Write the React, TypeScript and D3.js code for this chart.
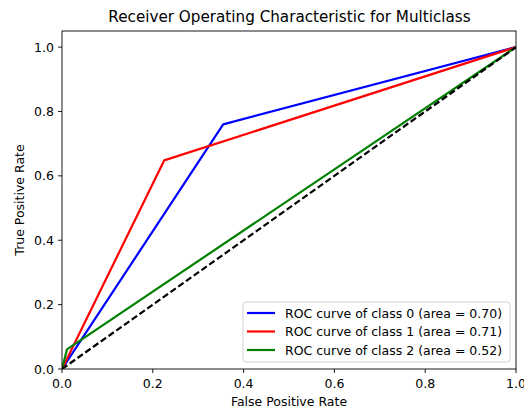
import React from "react";
import * as d3 from "d3";

// ROC curve points (false positive rate, true positive rate) per class
const class0Fpr = [0, 0.355, 1];
const class0Tpr = [0, 0.76, 1];
const class1Fpr = [0, 0.225, 1];
const class1Tpr = [0, 0.648, 1];
const class2Fpr = [0, 0.011, 1];
const class2Tpr = [0, 0.061, 1];
const areas = ["0.70", "0.71", "0.52"];
const colors = ["#0000ff", "#ff0000", "#008000"];
const xTicks = [0, 0.2, 0.4, 0.6, 0.8, 1.0];
const yTicks = [0, 0.2, 0.4, 0.6, 0.8, 1.0];

const W = 524;
const H = 409;
const left = 62;
const right = 516;
const top = 31;
const bottom = 369;
const FONT = "DejaVu Sans, sans-serif";
const FS = 12.5;

export default function App() {
  const x = d3.scaleLinear().domain([0, 1]).range([left, right]);
  const y = d3.scaleLinear().domain([0, 1.05]).range([bottom, top]);
  const line = d3
    .line<[number, number]>()
    .x((d) => x(d[0]))
    .y((d) => y(d[1]));

  const series = [
    { fpr: class0Fpr, tpr: class0Tpr },
    { fpr: class1Fpr, tpr: class1Tpr },
    { fpr: class2Fpr, tpr: class2Tpr },
  ];

  const legendX = 243;
  const legendY = 302;
  const rowH = 18.5;

  return (
    <svg
      width={W}
      height={H}
      style={{ position: "absolute", left: 0, top: 0, background: "#fff" }}
      fontFamily={FONT}
    >
      <defs>
        <clipPath id="plot-clip">
          <rect x={left} y={top} width={right - left} height={bottom - top} />
        </clipPath>
      </defs>
      <text x={(left + right) / 2 + 0.5} y={22} textAnchor="middle" fontSize={15.2} fill="#000">
        Receiver Operating Characteristic for Multiclass
      </text>

      <g clipPath="url(#plot-clip)">
        {series.map((s, i) => (
          <path
            key={i}
            d={line(s.fpr.map((f, j) => [f, s.tpr[j]]) as [number, number][]) || ""}
            fill="none"
            stroke={colors[i]}
            strokeWidth={2.2}
            strokeLinejoin="round"
          />
        ))}
        <path
          d={line([[0, 0], [1, 1]]) || ""}
          fill="none"
          stroke="#000"
          strokeWidth={2.2}
          strokeDasharray="6.5,3"
        />
      </g>

      <rect x={left} y={top} width={right - left} height={bottom - top} fill="none" stroke="#000" strokeWidth={0.9} />

      {xTicks.map((t) => (
        <g key={"x" + t}>
          <line x1={x(t)} x2={x(t)} y1={bottom} y2={bottom + 4} stroke="#000" strokeWidth={0.9} />
          <text x={x(t)} y={bottom + 18.5} textAnchor="middle" fontSize={FS} fill="#000">
            {t.toFixed(1)}
          </text>
        </g>
      ))}
      {yTicks.map((t) => (
        <g key={"y" + t}>
          <line x1={left - 4} x2={left} y1={y(t)} y2={y(t)} stroke="#000" strokeWidth={0.9} />
          <text x={left - 8} y={y(t) + 4.5} textAnchor="end" fontSize={FS} fill="#000">
            {t.toFixed(1)}
          </text>
        </g>
      ))}

      <text x={(left + right) / 2} y={406} textAnchor="middle" fontSize={FS} fill="#000">
        False Positive Rate
      </text>
      <text
        transform={`translate(24,${(top + bottom) / 2}) rotate(-90)`}
        textAnchor="middle"
        fontSize={FS}
        fill="#000"
      >
        True Positive Rate
      </text>

      <rect
        x={legendX}
        y={legendY}
        width={267}
        height={60}
        rx={3}
        fill="#fff"
        fillOpacity={0.8}
        stroke="#cccccc"
        strokeWidth={0.9}
      />
      {areas.map((a, i) => {
        const cy = legendY + 11 + i * rowH;
        return (
          <g key={"l" + i}>
            <line x1={legendX + 4} x2={legendX + 32} y1={cy} y2={cy} stroke={colors[i]} strokeWidth={2.2} />
            <text x={legendX + 42} y={cy + 4.5} fontSize={FS} fill="#000">
              {`ROC curve of class ${i} (area = ${a})`}
            </text>
          </g>
        );
      })}
    </svg>
  );
}
